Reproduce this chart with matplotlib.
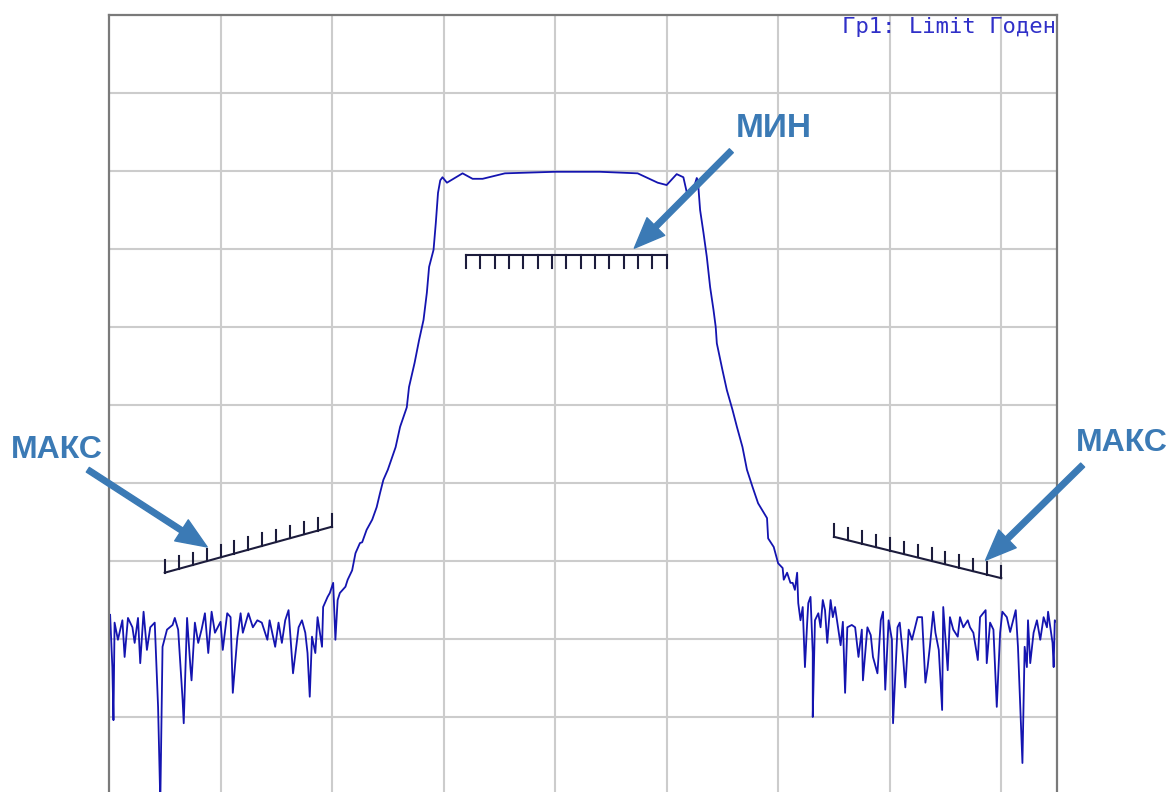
# Filter response with limit lines (VNA screen style)
import numpy as np
import matplotlib.pyplot as plt

# Trace: x in grid divisions, y in dB (10 dB/div, top = 0 dB)
freq_div = [
    0.01, 0.03, 0.04, 0.05, 0.08, 0.12, 0.14, 0.17, 0.21, 0.23, 0.26, 0.28,
    0.31, 0.34, 0.37, 0.41, 0.44, 0.46, 0.48, 0.52, 0.57, 0.59, 0.62, 0.66,
    0.67, 0.70, 0.73, 0.74, 0.77, 0.80, 0.83, 0.86, 0.89, 0.92, 0.95, 1.00,
    1.02, 1.06, 1.09, 1.11, 1.15, 1.18, 1.20, 1.24, 1.25, 1.29, 1.33, 1.37,
    1.42, 1.44, 1.49, 1.52, 1.55, 1.58, 1.61, 1.65, 1.70, 1.73, 1.76, 1.78,
    1.80, 1.82, 1.85, 1.87, 1.91, 1.92, 1.96, 1.98, 2.01, 2.03, 2.04, 2.05,
    2.07, 2.12, 2.14, 2.18, 2.21, 2.25, 2.27, 2.31, 2.36, 2.40, 2.43, 2.46,
    2.50, 2.57, 2.61, 2.67, 2.69, 2.74, 2.78, 2.82, 2.85, 2.87, 2.91, 2.93,
    2.95, 2.97, 2.99, 3.03, 3.17, 3.26, 3.35, 3.55, 4.00, 4.40, 4.74, 4.92,
    5.00, 5.09, 5.15, 5.18, 5.23, 5.27, 5.28, 5.30, 5.33, 5.36, 5.39, 5.42,
    5.44, 5.45, 5.50, 5.54, 5.59, 5.63, 5.68, 5.72, 5.77, 5.82, 5.90, 5.91,
    5.96, 6.00, 6.04, 6.05, 6.08, 6.11, 6.13, 6.15, 6.17, 6.18, 6.20, 6.22,
    6.24, 6.26, 6.27, 6.29, 6.31, 6.31, 6.33, 6.36, 6.38, 6.40, 6.42, 6.44,
    6.47, 6.49, 6.51, 6.54, 6.56, 6.58, 6.60, 6.62, 6.66, 6.69, 6.72, 6.75,
    6.76, 6.80, 6.83, 6.85, 6.89, 6.92, 6.94, 6.96, 6.99, 7.02, 7.03, 7.07,
    7.09, 7.12, 7.14, 7.17, 7.20, 7.25, 7.29, 7.32, 7.34, 7.36, 7.39, 7.41,
    7.44, 7.47, 7.48, 7.52, 7.54, 7.57, 7.61, 7.63, 7.66, 7.70, 7.72, 7.75,
    7.79, 7.81, 7.86, 7.87, 7.90, 7.93, 7.96, 7.99, 8.01, 8.05, 8.08, 8.13,
    8.15, 8.19, 8.21, 8.23, 8.24, 8.26, 8.29, 8.32, 8.35, 8.38, 8.41, 8.42,
    8.46, 8.47, 8.48, 8.50,
]
s21_db = [
    -76.9, -83.6, -90.4, -77.9, -80.1, -77.6, -82.3, -77.3, -78.5, -80.5, -77.3, -83.1,
    -76.5, -81.4, -78.5, -77.9, -88.7, -101.0, -81.0, -78.8, -78.2, -77.3, -78.8, -87.8,
    -90.8, -77.3, -83.6, -85.3, -77.9, -80.5, -78.8, -76.7, -81.8, -76.5, -79.2, -77.8,
    -81.4, -76.7, -77.2, -86.9, -79.9, -76.7, -79.2, -77.2, -76.7, -78.5, -77.6, -77.9,
    -80.1, -77.6, -81.0, -77.9, -80.5, -77.6, -76.3, -84.4, -78.5, -77.6, -79.2, -81.8,
    -87.4, -79.7, -81.8, -77.2, -81.0, -75.9, -74.6, -74.1, -72.8, -80.1, -77.6, -75.0,
    -74.1, -73.3, -72.4, -71.2, -69.0, -67.7, -67.6, -66.0, -64.7, -63.1, -61.3, -59.6,
    -58.3, -55.4, -52.8, -50.3, -47.7, -44.6, -41.7, -39.1, -35.6, -32.3, -30.1, -26.7,
    -22.8, -21.2, -20.8, -21.5, -20.3, -21.0, -21.0, -20.3, -20.1, -20.1, -20.3, -21.5,
    -21.8, -20.4, -20.8, -22.7, -22.8, -20.9, -21.2, -25.0, -27.9, -31.0, -34.9, -37.8,
    -40.0, -42.1, -45.5, -48.1, -50.6, -52.8, -55.4, -58.3, -60.5, -62.6, -64.5, -67.1,
    -68.2, -70.3, -70.9, -72.4, -71.5, -72.8, -72.8, -73.7, -71.5, -75.4, -77.6, -75.9,
    -83.6, -77.9, -75.4, -74.6, -81.8, -90.0, -77.6, -76.7, -78.5, -75.0, -76.3, -80.5,
    -75.0, -77.2, -75.9, -78.8, -80.8, -77.8, -86.9, -78.5, -78.2, -78.5, -82.3, -78.8,
    -85.3, -78.5, -79.5, -82.3, -84.4, -77.6, -76.5, -86.5, -77.6, -80.1, -90.8, -78.5,
    -77.9, -82.3, -86.2, -78.8, -80.1, -77.2, -77.2, -85.6, -83.6, -81.0, -76.5, -79.2,
    -81.4, -89.1, -75.9, -84.0, -77.2, -78.8, -79.7, -77.2, -78.5, -77.6, -78.5, -79.2,
    -82.7, -77.2, -76.3, -83.1, -77.9, -78.8, -88.7, -79.2, -76.5, -77.2, -79.1, -76.3,
    -81.0, -95.9, -81.0, -83.6, -77.6, -83.1, -79.2, -77.6, -80.1, -77.2, -78.5, -76.5,
    -80.5, -83.6, -77.6, -77.9,
]

# Limit segments: (x start, x end, y start, y end, number of ticks)
min_limit = [3.2, 5.0, -30.8, -30.8, 15]
max_limit_left = [0.5, 2.0, -71.5, -65.6, 13]
max_limit_right = [6.5, 8.0, -66.9, -72.2, 13]

label_min = "МИН"
label_max = "МАКС"
status_text = "Гр1: Limit Годен"

trace_color = '#1414b0'
limit_color = '#1c1c3c'
note_color = '#3b7ab5'

fig = plt.figure(figsize=(11.69, 7.92), dpi=100)
ax = fig.add_axes([109 / 1169, -3 / 792, 948 / 1169, 780 / 792])

ax.set_xlim(0, 8.5)
ax.set_ylim(-100, 0)
ax.set_xticks(np.arange(1, 9))
ax.set_yticks(np.arange(-90, 0, 10))
ax.tick_params(length=0, labelbottom=False, labelleft=False)
ax.grid(True, color='#cccccc', linewidth=1.5)
ax.set_axisbelow(True)
for side in ['left', 'top', 'right']:
    ax.spines[side].set_color('#7a7a7a')
    ax.spines[side].set_linewidth(1.6)
ax.spines['bottom'].set_visible(False)

# Measured trace
ax.plot(freq_div, s21_db, color=trace_color, linewidth=1.3)


# Limit line with short hatch ticks (up for MAX, down for MIN)
def draw_limit(seg, direction):
    x0, x1, y0, y1, n = seg
    ax.plot([x0, x1], [y0, y1], color=limit_color, linewidth=1.5)
    xs = np.linspace(x0, x1, n)
    ys = np.interp(xs, [x0, x1], [y0, y1])
    for xt, yt in zip(xs, ys):
        ax.plot([xt, xt], [yt, yt + 1.6 * direction], color=limit_color, linewidth=1.5)


draw_limit(min_limit, -1)
draw_limit(max_limit_left, 1)
draw_limit(max_limit_right, 1)

# Callouts
arrow_style = dict(arrowstyle='simple,head_length=1.1,head_width=0.9,tail_width=0.2',
                   color=note_color, mutation_scale=20, shrinkA=0, shrinkB=0)

ax.text(5.96, -14.5, label_min, color=note_color, fontsize=24, fontweight='bold',
        family='Liberation Sans', ha='center', va='center', clip_on=False)
ax.annotate('', xy=(4.71, -29.9), xytext=(5.58, -17.4), arrowprops=arrow_style,
            annotation_clip=False)

ax.text(-0.47, -55.8, label_max, color=note_color, fontsize=23, fontweight='bold',
        family='Liberation Sans', ha='center', va='center', clip_on=False)
ax.annotate('', xy=(0.88, -68.2), xytext=(-0.19, -58.3), arrowprops=arrow_style,
            annotation_clip=False)

ax.text(9.08, -54.9, label_max, color=note_color, fontsize=23, fontweight='bold',
        family='Liberation Sans', ha='center', va='center', clip_on=False)
ax.annotate('', xy=(7.86, -69.9), xytext=(8.73, -57.7), arrowprops=arrow_style,
            annotation_clip=False)

ax.text(8.49, -1.5, status_text, color='#3030c8', fontsize=16, family='DejaVu Sans Mono',
        ha='right', va='center')

plt.savefig('out.png', dpi=100)
